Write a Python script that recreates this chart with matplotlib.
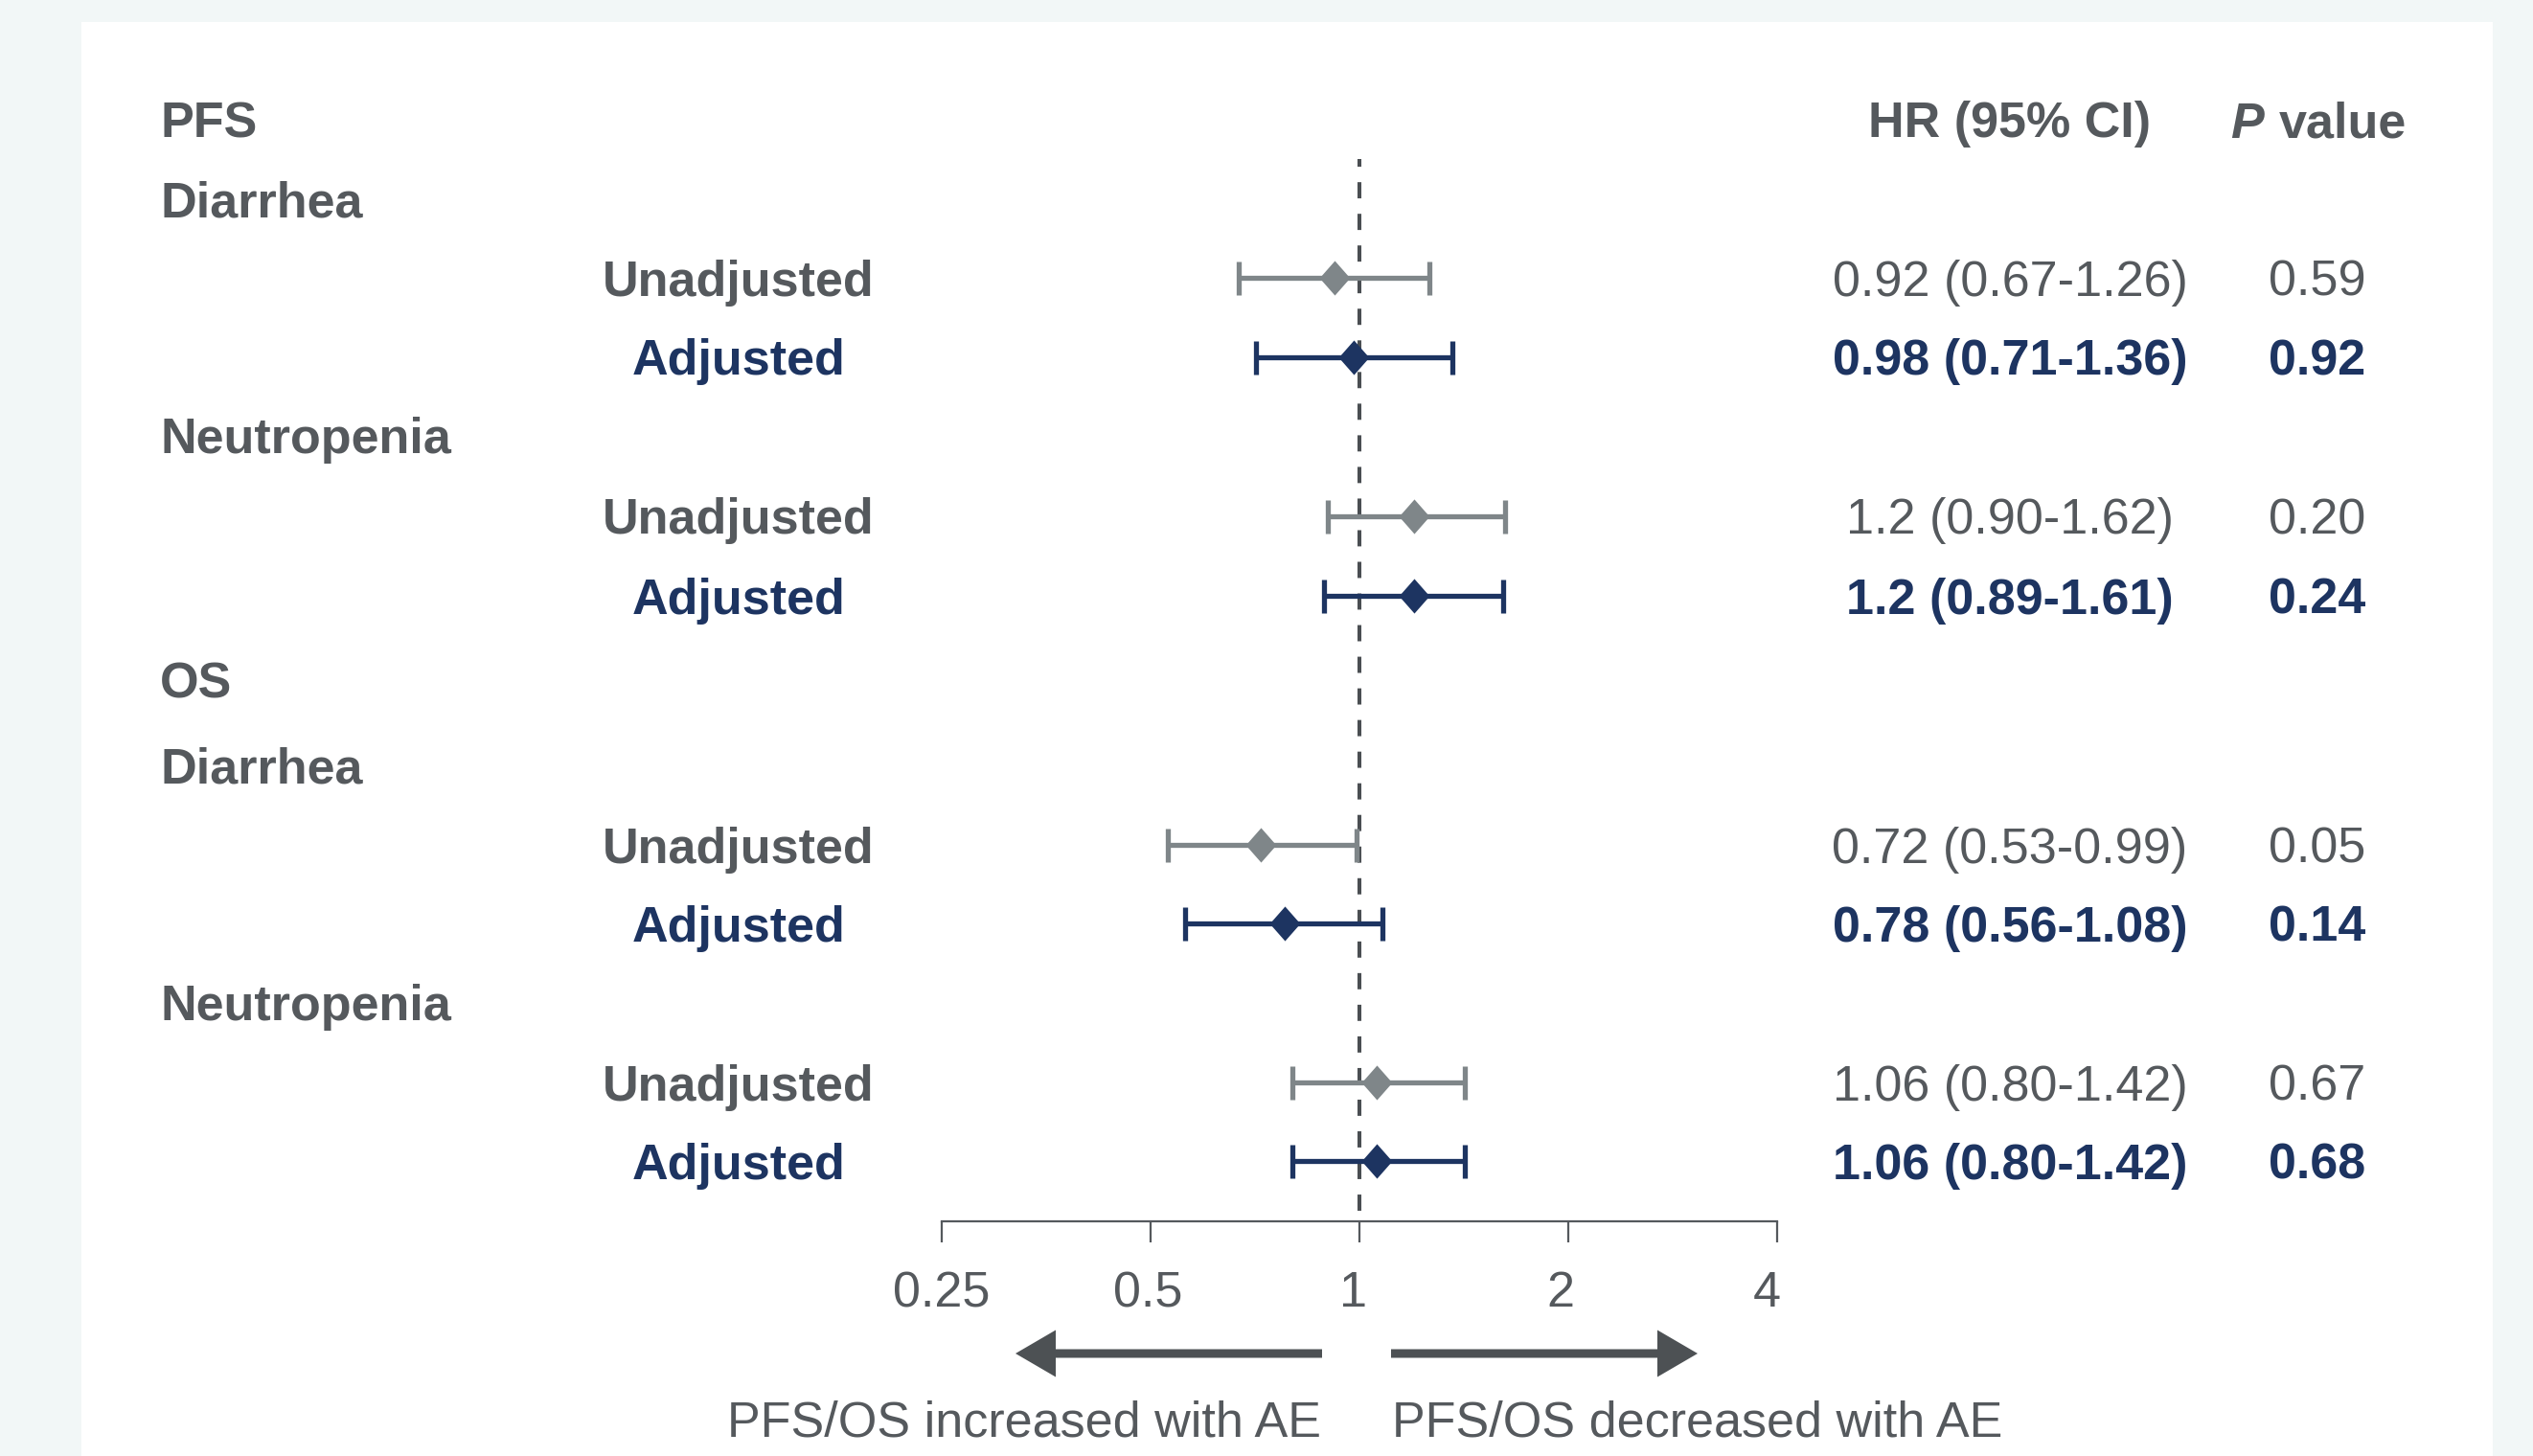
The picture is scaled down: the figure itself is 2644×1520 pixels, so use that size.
import matplotlib
matplotlib.use('Agg')
import matplotlib.pyplot as plt
import matplotlib.transforms as mtransforms
from matplotlib.path import Path
from matplotlib.patches import FancyArrow, Rectangle
import numpy as np

# ---------------- data ----------------
outcomes = ['PFS', 'OS']
adverse_events = ['Diarrhea', 'Neutropenia', 'Diarrhea', 'Neutropenia']
models = ['Unadjusted', 'Adjusted', 'Unadjusted', 'Adjusted',
          'Unadjusted', 'Adjusted', 'Unadjusted', 'Adjusted']
hr = [0.92, 0.98, 1.2, 1.2, 0.72, 0.78, 1.06, 1.06]
ci_low = [0.67, 0.71, 0.90, 0.89, 0.53, 0.56, 0.80, 0.80]
ci_high = [1.26, 1.36, 1.62, 1.61, 0.99, 1.08, 1.42, 1.42]
hr_text = ['0.92 (0.67-1.26)', '0.98 (0.71-1.36)', '1.2 (0.90-1.62)', '1.2 (0.89-1.61)',
           '0.72 (0.53-0.99)', '0.78 (0.56-1.08)', '1.06 (0.80-1.42)', '1.06 (0.80-1.42)']
p_values = ['0.59', '0.92', '0.20', '0.24', '0.05', '0.14', '0.67', '0.68']
x_ticks = [0.25, 0.5, 1, 2, 4]
x_tick_labels = ['0.25', '0.5', '1', '2', '4']
ref_line = 1
left_note = 'PFS/OS increased with AE'
right_note = 'PFS/OS decreased with AE'

# ---------------- layout (pixels) ----------------
W, H, DPI = 2644, 1520, 100
outcome_y = [125, 710]
ae_y = [208, 455, 799, 1047]
row_y = [290, 373, 539, 622, 882, 964, 1130, 1212]
axis_y = 1275
x_left_px, x_right_px = 983, 1855
tick_label_shift_px = [0, -3, -7, -8, -11]

GRAY_TXT = '#55595d'
GRAY_MK = '#7f8689'
NAVY = '#1d3461'
BG = '#f2f7f7'
FS = 37.5
plt.rcParams['font.family'] = ['Liberation Sans', 'DejaVu Sans']

fig = plt.figure(figsize=(W / DPI, H / DPI), dpi=DPI, facecolor=BG)
fig.patches.append(Rectangle((85 / W, 0), (2602 - 85) / W, 1 - 23 / H,
                             transform=fig.transFigure, facecolor='white',
                             edgecolor='none', zorder=-5))

def fx(px):
    return px / W

def fy(py):
    return 1 - py / H

def label(x, yc, s, **kw):
    fig.text(fx(x), fy(yc + 18.5), s, va='baseline', fontsize=FS, **kw)

ax = fig.add_axes([fx(x_left_px), fy(axis_y), (x_right_px - x_left_px) / W, axis_y / H])
ax.set_zorder(2)
ax.set_facecolor('none')
ax.set_xscale('log', base=2)
ax.set_xlim(x_ticks[0], x_ticks[-1])
ax.set_ylim(axis_y, 0)
for s in ['left', 'right', 'top']:
    ax.spines[s].set_visible(False)
ax.spines['bottom'].set_color('#55595d')
ax.spines['bottom'].set_linewidth(1.6)
ax.set_yticks([])
ax.set_xticks(x_ticks)
ax.set_xticklabels(x_tick_labels)
ax.minorticks_off()
ax.tick_params(axis='x', direction='out', length=16, width=1.6, color='#55595d',
               labelsize=FS, labelcolor=GRAY_TXT, pad=21)
for lab, sh in zip(ax.get_xticklabels(), tick_label_shift_px):
    lab.set_transform(lab.get_transform() +
                      mtransforms.ScaledTranslation(sh / DPI, 0, fig.dpi_scale_trans))

# reference line
ax.plot([ref_line, ref_line], [166, axis_y], color='#4a4e52', lw=2.9,
        ls=(2.2, (4.2, 4.0)), zorder=1, clip_on=False)

diamond = Path([(0, 1), (0.88, 0), (0, -1), (-0.88, 0), (0, 1)],
               [Path.MOVETO, Path.LINETO, Path.LINETO, Path.LINETO, Path.CLOSEPOLY])

hr_a = np.array(hr)
lo_a = np.array(ci_low)
hi_a = np.array(ci_high)
y_a = np.array(row_y, dtype=float)
for idx, col in [(slice(0, None, 2), GRAY_MK), (slice(1, None, 2), NAVY)]:
    ax.errorbar(hr_a[idx], y_a[idx],
                xerr=[hr_a[idx] - lo_a[idx], hi_a[idx] - hr_a[idx]],
                fmt='none', ecolor=col, elinewidth=3.8, capsize=12.6,
                capthick=3.8, zorder=2)
    ax.plot(hr_a[idx], y_a[idx], ls='none', marker=diamond, markersize=26,
            color=col, markeredgewidth=0, zorder=3)

# column headers
label(167, outcome_y[0], outcomes[0], color=GRAY_TXT, fontweight='bold', ha='left')
label(167, outcome_y[1], outcomes[1], color=GRAY_TXT, fontweight='bold', ha='left')
label(2098, outcome_y[0], 'HR (95% CI)', color=GRAY_TXT, fontweight='bold', ha='center')
label(2328, outcome_y[0], 'P', color=GRAY_TXT, fontweight='bold', fontstyle='italic', ha='left')
label(2379, outcome_y[0], 'value', color=GRAY_TXT, fontweight='bold', ha='left')

for ae, y in zip(adverse_events, ae_y):
    label(167, y, ae, color=GRAY_TXT, fontweight='bold', ha='left')

for i, (m, y) in enumerate(zip(models, row_y)):
    adj = (m == 'Adjusted')
    c_lab = NAVY if adj else GRAY_TXT
    w_val = 'bold' if adj else 'normal'
    label(771, y, m, color=c_lab, fontweight='bold', ha='center')
    label(2098, y, hr_text[i], color=c_lab, fontweight=w_val, ha='center')
    label(2419, y, p_values[i], color=c_lab, fontweight=w_val, ha='center')

# direction arrows
ARROW_C = '#4d5154'
ay = fy(1413)
fig.patches.append(FancyArrow(fx(1380), ay, fx(1060) - fx(1380), 0, width=9 / H,
                              head_width=49 / H, head_length=42 / W,
                              length_includes_head=True, transform=fig.transFigure,
                              color=ARROW_C, lw=0, zorder=5))
fig.patches.append(FancyArrow(fx(1452), ay, fx(1772) - fx(1452), 0, width=9 / H,
                              head_width=49 / H, head_length=42 / W,
                              length_includes_head=True, transform=fig.transFigure,
                              color=ARROW_C, lw=0, zorder=5))
fig.text(fx(1379), fy(1499), left_note, ha='right', va='baseline', fontsize=FS, color=GRAY_TXT)
fig.text(fx(1453), fy(1499), right_note, ha='left', va='baseline', fontsize=FS, color=GRAY_TXT)

fig.savefig('out.png', dpi=DPI, facecolor=BG)
